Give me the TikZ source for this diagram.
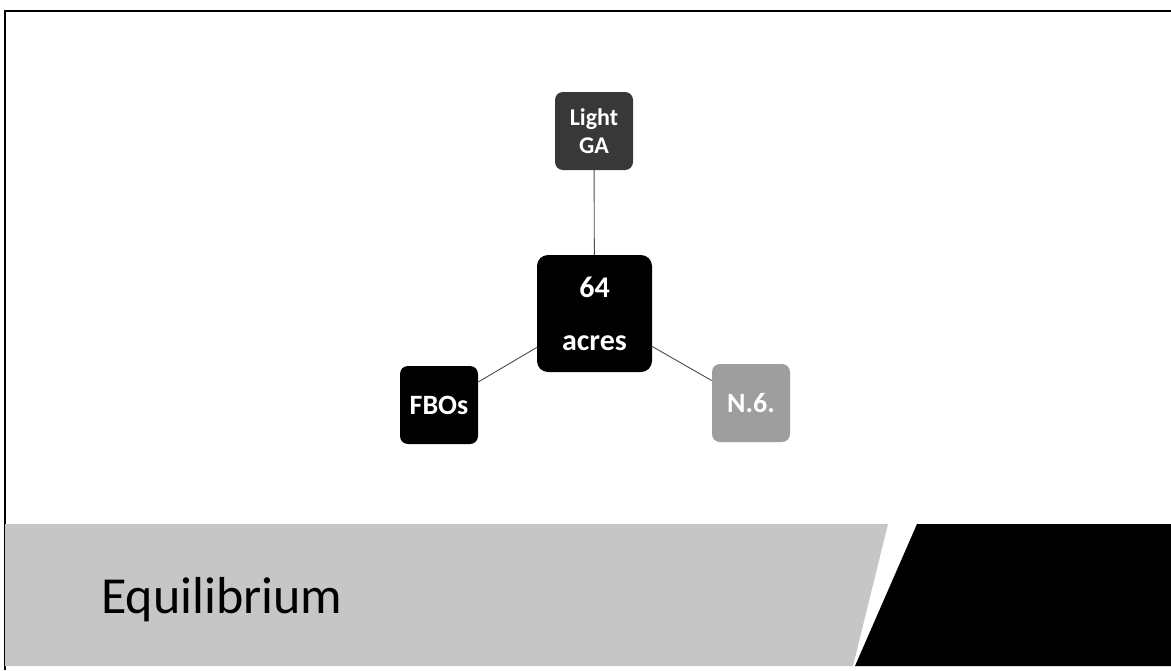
\documentclass[tikz,border=0pt]{standalone}
\usepackage{fontspec}
\setmainfont{Carlito}
\begin{document}
\begin{tikzpicture}[x=1pt,y=-1pt,
    box/.style={rounded corners=8pt, minimum width=78pt, minimum height=78pt, inner sep=0pt,
      text=white, align=center, font=\bfseries\fontsize{28}{32}\selectfont},
    link/.style={draw=black!70, line width=0.9pt}]
  \useasboundingbox (0,0) rectangle (1171,670);
  \fill[white] (0,0) rectangle (1171,670);
  % frame and title band
  \draw[line width=2.5pt] (5,670) -- (5,11) -- (1171,11);
  \fill[gray!45] (5,524) -- (888,524) -- (853,666) -- (5,666) -- cycle;
  \fill[black] (917,524) -- (1171,524) -- (1171,666) -- (855,666) -- cycle;
  \node[anchor=base west, inner sep=0pt, font=\fontsize{52}{60}\selectfont] (title) at (101,613) {Equilibrium};
  % hub and spokes
  \node[box, fill=black, minimum width=115pt, minimum height=117pt, rounded corners=11pt,
    font=\bfseries\fontsize{30}{34}\selectfont] (acres) at (594.5,313.5) {64\\[19pt]acres};
  \node[box, fill=black!78, font=\bfseries\fontsize{24}{28}\selectfont] (ga) at (594,131) {Light\\GA};
  \node[box, fill=black] (fbo) at (439,405) {FBOs};
  \node[box, fill=black!38] (nsix) at (751,403) {N.6.};
  \draw[link] (ga) -- (acres);
  \draw[link] (acres) -- (fbo);
  \draw[link] (acres) -- (nsix);
\end{tikzpicture}
\end{document}
